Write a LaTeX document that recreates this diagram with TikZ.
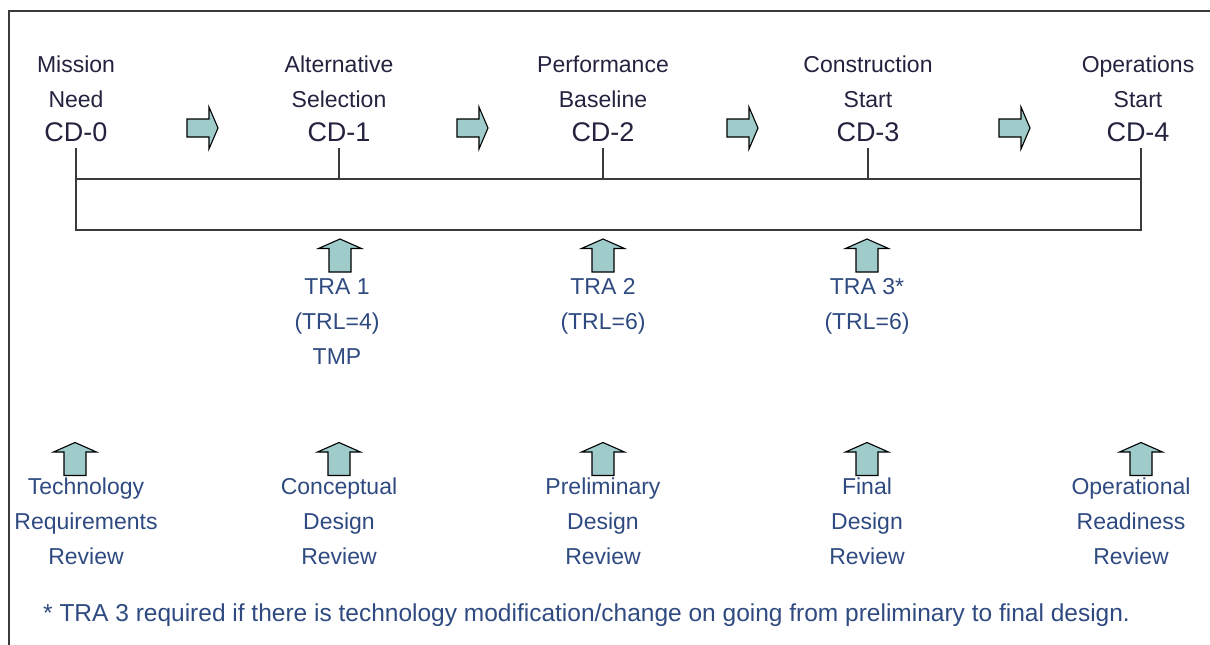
\documentclass[tikz,border=0pt]{standalone}
\usepackage{fontspec}
\setmainfont{Liberation Sans}
\usetikzlibrary{positioning}

\definecolor{arrowfill}{HTML}{9FCBCB}
\definecolor{navytext}{HTML}{23233F}
\definecolor{bluetext}{HTML}{2E4A80}
\definecolor{framegray}{HTML}{3A3A3A}

\begin{document}
\begin{tikzpicture}[x=1pt, y=-1pt,
  milestone/.style={font=\fontsize{23}{35}\selectfont, text=navytext, align=center, inner sep=0pt},
  cd/.style={font=\fontsize{27}{32}\selectfont, text=navytext, inner sep=0pt, anchor=base},
  review/.style={font=\fontsize{23}{35}\selectfont, text=bluetext, align=center, inner sep=0pt, anchor=north},
  barline/.style={draw=framegray, line width=1.3pt},
  block/.style={draw=black, line width=1.1pt, fill=arrowfill, line join=miter},
  rarrow/.pic={\path[block] (-15,9) -- (7,9) -- (7,21) -- (16,0) -- (7,-21) -- (7,-9) -- (-15,-9) -- cycle;},
  uarrow/.pic={\path[block] (0,-16.5) -- (21.5,-7) -- (11,-7) -- (11,16.5) -- (-11,16.5) -- (-11,-7) -- (-21.5,-7) -- cycle;},
]
\useasboundingbox (0,0) rectangle (1210,645);
\draw[barline] (9,11) rectangle (1230,670);

% decision points
\node[cd] (cd0) at (76,141) {CD-0};
\node[cd] (cd1) at (339,141) {CD-1};
\node[cd] (cd2) at (603,141) {CD-2};
\node[cd] (cd3) at (868,141) {CD-3};
\node[cd] (cd4) at (1138,141) {CD-4};

\node[milestone, above=14pt of cd0] (need) {Mission\\Need};
\node[milestone, above=14pt of cd1] (alt) {Alternative\\Selection};
\node[milestone, above=14pt of cd2] (perf) {Performance\\Baseline};
\node[milestone, above=14pt of cd3] (constr) {Construction\\Start};
\node[milestone, above=14pt of cd4] (ops) {Operations\\Start};

\pic at (202,128) {rarrow};
\pic at (472,128) {rarrow};
\pic at (742,128) {rarrow};
\pic at (1014,128) {rarrow};

% bracket
\coordinate (barL) at (76,179);
\coordinate (barR) at (1141,179);
\coordinate (botL) at (76,230);
\coordinate (botR) at (1141,230);

\draw[barline] ([yshift=-7pt]cd0.south) -- (botL) -- (botR) -- ([yshift=-7pt]cd4.south -| botR);
\draw[barline] (barL) -- (barR);
\draw[barline] ([yshift=-7pt]cd1.south) -- (cd1.south |- barL);
\draw[barline] ([yshift=-7pt]cd2.south) -- (cd2.south |- barL);
\draw[barline] ([yshift=-7pt]cd3.south) -- (cd3.south |- barL);

% technology readiness assessments
\pic at (340,255.5) {uarrow};
\pic at (603,255.5) {uarrow};
\pic at (867,255.5) {uarrow};

\node[review] (tra1) at (337,278) {TRA 1\\(TRL=4)\\TMP};
\node[review] (tra2) at (603,278) {TRA 2\\(TRL=6)};
\node[review] (tra3) at (867,278) {TRA 3*\\(TRL=6)};

% design reviews
\pic at (75,459) {uarrow};
\pic at (339,459) {uarrow};
\pic at (603,459) {uarrow};
\pic at (867,459) {uarrow};
\pic at (1141,459) {uarrow};

\node[review] (trr) at (86,478) {Technology\\Requirements\\Review};
\node[review] (cdr) at (339,478) {Conceptual\\Design\\Review};
\node[review] (pdr) at (603,478) {Preliminary\\Design\\Review};
\node[review] (fdr) at (867,478) {Final\\Design\\Review};
\node[review] (orr) at (1131,478) {Operational\\Readiness\\Review};

\node[anchor=base west, font=\fontsize{24.5}{28}\selectfont, text=bluetext, inner sep=0pt] (note) at (43,621)
  {* TRA 3 required if there is technology modification/change on going from preliminary to final design.};

\end{tikzpicture}
\end{document}
